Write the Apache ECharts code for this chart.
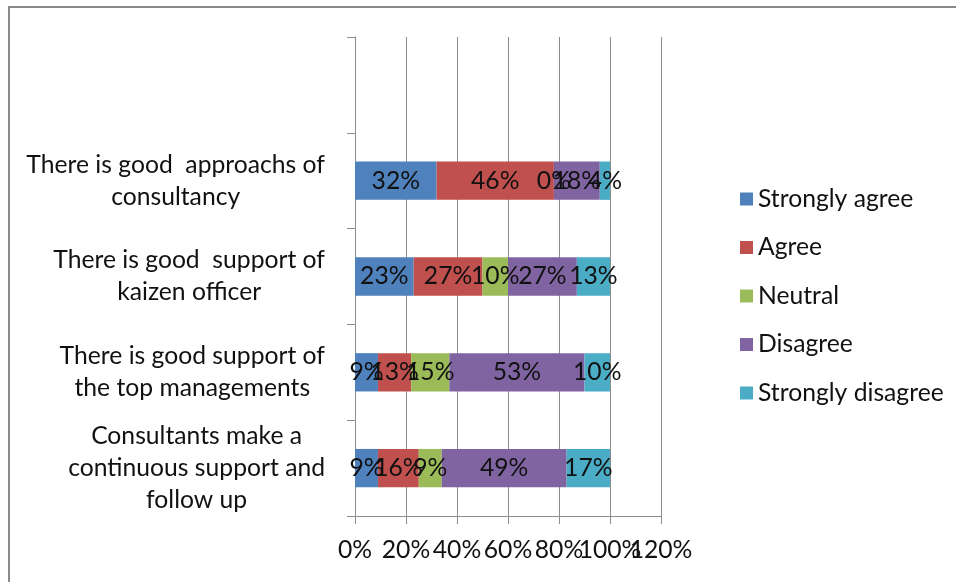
<!DOCTYPE html>
<html>
<head>
<meta charset="utf-8">
<script src="https://cdn.jsdelivr.net/npm/echarts@6/dist/echarts.min.js"></script>
<style>
  html, body { margin: 0; padding: 0; background: #fff; }
  #chart { width: 956px; height: 582px; }
</style>
</head>
<body>
<div id="chart"></div>
<script>
// Survey statements, listed bottom to top (top slot is left blank)
const categories = [
  'Consultants make a\ncontinuous support and\nfollow up',
  'There is good support of\nthe top managements',
  'There is good  support of\nkaizen officer',
  'There is good  approachs of\nconsultancy',
  ''
];

const seriesNames = ['Strongly agree', 'Agree', 'Neutral', 'Disagree', 'Strongly disagree'];

// Share of responses (%) per statement, same order as categories
const stronglyAgree    = [9, 9, 23, 32, null];
const agree            = [16, 13, 27, 46, null];
const neutral          = [9, 15, 10, 0, null];
const disagree         = [49, 53, 27, 18, null];
const stronglyDisagree = [17, 10, 13, 4, null];

const xTicks = { min: 0, max: 120, step: 20 };

const colors = ['#4F81BD', '#C0504D', '#9BBB59', '#8064A2', '#4BACC6'];
const seriesData = [stronglyAgree, agree, neutral, disagree, stronglyDisagree];

const FONT = 'Lato';
const FS = 24.7;
const GRID_GRAY = '#8c8c8c';
const TEXT = '#111111';

const tickLabelStyle = { fontFamily: FONT, fontSize: FS, color: TEXT, margin: 22 };

const chart = echarts.init(document.getElementById('chart'), null, { renderer: 'canvas' });

chart.setOption({
  animation: false,
  backgroundColor: '#ffffff',
  color: colors,
  textStyle: { fontFamily: FONT },
  graphic: [{
    type: 'rect',
    shape: { x: 9, y: 7, width: 1200, height: 1200 },
    style: { fill: 'none', stroke: '#8a8a8a', lineWidth: 2 },
    silent: true
  }],
  grid: { left: 355, right: 295, top: 37, bottom: 66, containLabel: false },
  legend: {
    orient: 'vertical',
    left: 735,
    top: 181,
    itemWidth: 13,
    itemHeight: 13,
    itemGap: 22.5,
    icon: 'rect',
    textStyle: { fontFamily: FONT, fontSize: FS, color: TEXT, lineHeight: 26, padding: [0, 0, 0, 0] },
    data: seriesNames
  },
  xAxis: [{
    // main percentage axis: line, ticks, grid, and the 20/60/100 labels
    type: 'value',
    min: xTicks.min,
    max: xTicks.max,
    interval: xTicks.step,
    axisLine: { show: true, lineStyle: { color: GRID_GRAY, width: 1 } },
    axisTick: { show: true, length: 8, lineStyle: { color: GRID_GRAY } },
    splitLine: { show: true, lineStyle: { color: GRID_GRAY, width: 1 } },
    axisLabel: Object.assign({
      formatter: function (v) { return v % (xTicks.step * 2) === 0 ? '' : v + '%'; },
      showMinLabel: true,
      showMaxLabel: true
    }, tickLabelStyle)
  }, {
    // companion axis carrying the 0/40/80/120 labels, so crowded labels all stay visible
    type: 'value',
    position: 'bottom',
    min: xTicks.min,
    max: xTicks.max,
    interval: xTicks.step * 2,
    axisLine: { show: false },
    axisTick: { show: false },
    splitLine: { show: false },
    axisLabel: Object.assign({
      formatter: '{value}%',
      showMinLabel: true,
      showMaxLabel: true
    }, tickLabelStyle)
  }],
  yAxis: {
    type: 'category',
    data: categories,
    axisLine: { show: true, lineStyle: { color: GRID_GRAY, width: 1 } },
    axisTick: { show: true, length: 8, lineStyle: { color: GRID_GRAY } },
    splitLine: { show: false },
    axisLabel: {
      margin: 30,
      align: 'right',
      formatter: function (v) {
        if (!v) return '';
        return v.split('\n').map(function (l) { return '{c|' + l + '}'; }).join('\n');
      },
      rich: {
        c: { align: 'center', fontFamily: FONT, fontSize: FS, lineHeight: 32, color: TEXT }
      }
    }
  },
  series: seriesNames.map(function (name, i) {
    return {
      name: name,
      type: 'bar',
      stack: 'total',
      xAxisIndex: 0,
      barCategoryGap: '60%',
      data: seriesData[i],
      itemStyle: { color: colors[i] },
      label: {
        show: true,
        position: 'inside',
        formatter: function (p) { return p.value == null ? '' : p.value + '%'; },
        fontFamily: FONT,
        fontSize: FS,
        color: TEXT
      }
    };
  })
});
</script>
</body>
</html>
